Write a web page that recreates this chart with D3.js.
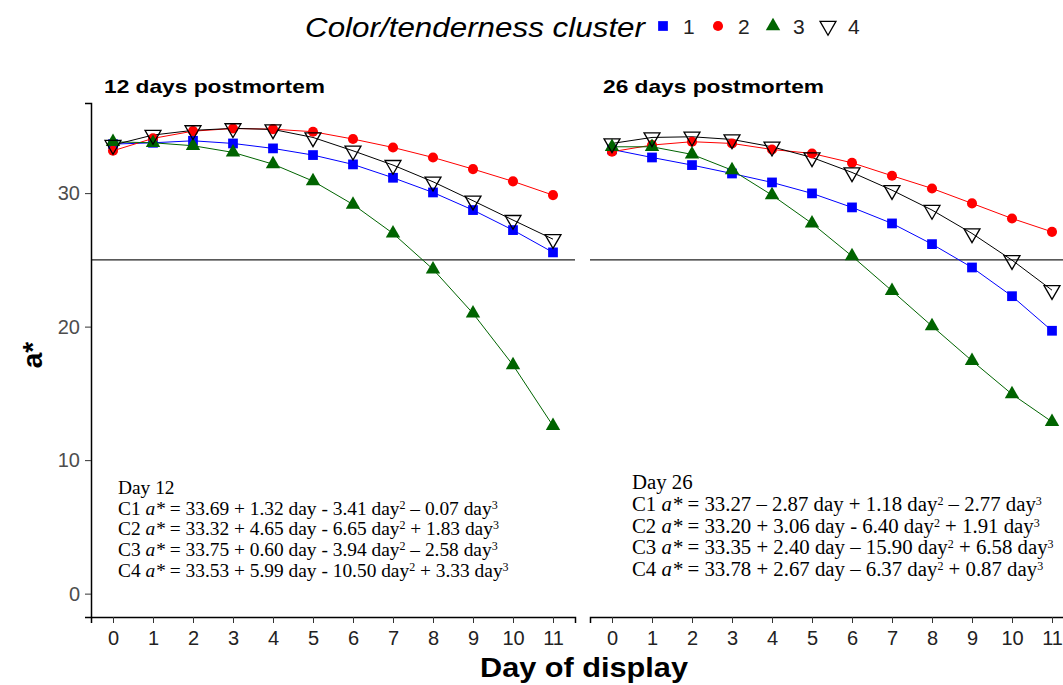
<!DOCTYPE html>
<html>
<head>
<meta charset="utf-8">
<script src="https://cdn.jsdelivr.net/npm/d3@7"></script>
<style>
  body { margin: 0; background: #fff; }
  svg { display: block; font-family: "Liberation Sans", Arial, sans-serif; }
  .eq { font-family: "Liberation Serif", "Times New Roman", serif; fill: #000; }
</style>
</head>
<body>
<svg width="1063" height="685"></svg>
<script>
// dagen op de x-as
var days = [0, 1, 2, 3, 4, 5, 6, 7, 8, 9, 10, 11];
var clusters = ["1", "2", "3", "4"];
var colors = ["#0000ff", "#ff0000", "#006400", "#000000"];
var yTicks = [0, 10, 20, 30];
var refLine = 25;

// a* waarden, 12 dagen postmortem
var day12C1 = [33.67, 33.77, 33.92, 33.72, 33.35, 32.85, 32.15, 31.15, 30.05, 28.73, 27.23, 25.56];
var day12C2 = [33.17, 34.1, 34.64, 34.84, 34.79, 34.6, 34.05, 33.42, 32.67, 31.8, 30.88, 29.85];
var day12C3 = [33.84, 33.77, 33.55, 33.05, 32.17, 30.9, 29.15, 26.98, 24.3, 20.99, 17.12, 12.57];
var day12C4 = [33.6, 34.35, 34.7, 34.85, 34.77, 34.17, 33.17, 32.1, 30.85, 29.43, 27.98, 26.55];

// a* waarden, 26 dagen postmortem
var day26C1 = [33.27, 32.67, 32.1, 31.47, 30.8, 29.98, 28.93, 27.73, 26.18, 24.43, 22.28, 19.69];
var day26C2 = [33.1, 33.6, 33.85, 33.72, 33.27, 32.97, 32.27, 31.3, 30.35, 29.23, 28.1, 27.1];
var day26C3 = [33.47, 33.47, 32.9, 31.72, 29.85, 27.73, 25.28, 22.68, 20.04, 17.44, 14.94, 12.87];
var day26C4 = [33.72, 34.17, 34.22, 34.02, 33.47, 32.67, 31.55, 30.22, 28.73, 26.98, 24.98, 22.73];

// vergelijkingen: [deel voor day^2, deel na day^2 tot day^3]
var eq12 = [
    ["33.69 + 1.32 day - 3.41 day", " \u2013 0.07 day"],
    ["33.32 + 4.65 day - 6.65 day", " + 1.83 day"],
    ["33.75 + 0.60 day - 3.94 day", " \u2013 2.58 day"],
    ["33.53 + 5.99 day - 10.50 day", " + 3.33 day"]
];
var eq26 = [
    ["33.27 \u2013 2.87 day + 1.18 day", " \u2013 2.77 day"],
    ["33.20 + 3.06 day - 6.40 day", " + 1.91 day"],
    ["33.35 + 2.40 day \u2013 15.90 day", " + 6.58 day"],
    ["33.78 + 2.67 day \u2013 6.37 day", " + 0.87 day"]
];

var svg = d3.select("svg");

var y = d3.scaleLinear().domain([-1.75, 36.75]).range([617, 103]);

var panels = [
    { title: "12 days postmortem", left: 91, series: [day12C1, day12C2, day12C3, day12C4], eqTitle: "Day 12", eqs: eq12, eqX: 118, eqY: 494, eqStep: 20.7, eqSize: 19.4, yAxis: true },
    { title: "26 days postmortem", left: 590, series: [day26C1, day26C2, day26C3, day26C4], eqTitle: "Day 26", eqs: eq26, eqX: 632, eqY: 489, eqStep: 21.8, eqSize: 20.8, yAxis: false }
];

var symbols = [d3.symbolSquare, d3.symbolCircle, d3.symbolTriangle, d3.symbolTriangle];
var sizes = [95, 80, 90, 110];

function marker(sel, i) {
    sel.attr("d", d3.symbol().type(symbols[i]).size(sizes[i]))
        .attr("fill", i == 3 ? "none" : colors[i])
        .attr("stroke", i == 3 ? "#000" : "none")
        .attr("stroke-width", 1.3);
}

panels.forEach(function (p) {
    var x = d3.scaleLinear().domain([-0.55, 11.55]).range([p.left, p.left + 484]);
    var g = svg.append("g");

    // referentielijn bij a* = 25
    g.append("line")
        .attr("x1", p.left).attr("x2", p.left + 484)
        .attr("y1", y(refLine)).attr("y2", y(refLine))
        .attr("stroke", "#222").attr("stroke-width", 1.3);

    // x-as
    var xa = g.append("g")
        .attr("transform", "translate(0,617)")
        .call(d3.axisBottom(x).tickValues(days).tickSize(6).tickPadding(8).tickFormat(d3.format("d")));
    xa.select(".domain").attr("stroke", "#000").attr("stroke-width", 1.5);
    xa.selectAll(".tick line").attr("stroke", "#333");
    xa.selectAll("text").attr("fill", "#222").style("font-size", "20px");

    if (p.yAxis) {
        var ya = g.append("g")
            .attr("transform", "translate(" + p.left + ",0)")
            .call(d3.axisLeft(y).tickValues(yTicks).tickSize(6).tickPadding(5));
        ya.select(".domain").attr("stroke", "#000").attr("stroke-width", 1.5);
        ya.selectAll(".tick line").attr("stroke", "#333");
        ya.selectAll("text").attr("fill", "#4d4d4d").style("font-size", "20px");
    }

    // lijnen en punten per cluster
    var line = d3.line().x(function (d, i) { return x(days[i]); }).y(function (d) { return y(d); });
    p.series.forEach(function (s, i) {
        g.append("path").datum(s)
            .attr("d", line)
            .attr("fill", "none")
            .attr("stroke", colors[i])
            .attr("stroke-width", 1);
    });
    p.series.forEach(function (s, i) {
        g.selectAll(".pt" + i)
            .data(s)
            .enter().append("path")
            .attr("class", "pt" + i)
            .attr("transform", function (d, j) {
                return "translate(" + x(days[j]) + "," + y(d) + ")" + (i == 3 ? " rotate(180)" : "");
            })
            .call(marker, i);
    });

    // paneel titel
    svg.append("text")
        .attr("x", p.left + 13).attr("y", 93)
        .attr("textLength", 221).attr("lengthAdjust", "spacingAndGlyphs")
        .style("font-size", "19px").style("font-weight", "bold")
        .text(p.title);

    // vergelijkingen
    var eg = svg.append("g").attr("class", "eq").style("font-size", p.eqSize + "px");
    eg.append("text").attr("x", p.eqX).attr("y", p.eqY).text(p.eqTitle);
    p.eqs.forEach(function (e, i) {
        var t = eg.append("text").attr("x", p.eqX).attr("y", p.eqY + (i + 1) * p.eqStep);
        t.append("tspan").text("C" + (i + 1) + " ");
        t.append("tspan").style("font-style", "italic").text("a*");
        t.append("tspan").text(" = " + e[0]);
        t.append("tspan").attr("dy", -6).style("font-size", "12px").text("2");
        t.append("tspan").attr("dy", 6).text(e[1]);
        t.append("tspan").attr("dy", -6).style("font-size", "12px").text("3");
    });
});

// as titels
svg.append("text")
    .attr("transform", "translate(42,355) rotate(-90)")
    .attr("text-anchor", "middle")
    .style("font-size", "28px").style("font-weight", "bold")
    .text("a*");

svg.append("text")
    .attr("x", 584).attr("y", 677)
    .attr("text-anchor", "middle")
    .attr("textLength", 208).attr("lengthAdjust", "spacingAndGlyphs")
    .style("font-size", "28px").style("font-weight", "bold")
    .text("Day of display");

// legenda
var lg = svg.append("g");
lg.append("text")
    .attr("x", 305).attr("y", 37)
    .attr("textLength", 340).attr("lengthAdjust", "spacingAndGlyphs")
    .style("font-size", "27px").style("font-style", "italic")
    .text("Color/tenderness cluster");
var legX = [663, 718, 773, 828];
clusters.forEach(function (c, i) {
    lg.append("path")
        .attr("transform", "translate(" + legX[i] + ",26)" + (i == 3 ? " rotate(180)" : ""))
        .call(marker, i);
    lg.append("text")
        .attr("x", legX[i] + 20).attr("y", 34)
        .style("font-size", "21px").attr("fill", "#222")
        .text(c);
});
</script>
</body>
</html>
